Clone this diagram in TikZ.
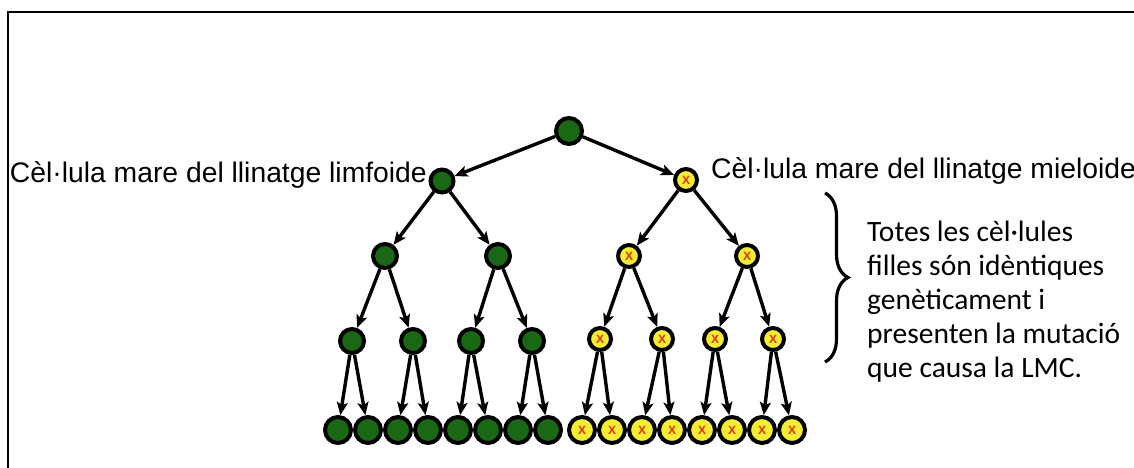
\documentclass[tikz,border=0pt]{standalone}
\usepackage{fontspec}
\newfontfamily\arialf{Liberation Sans}
\newfontfamily\calib{Carlito}
\usetikzlibrary{arrows.meta,decorations.pathreplacing}
\definecolor{cgreen}{RGB}{24,104,20}
\definecolor{cyellow}{RGB}{246,236,50}
\definecolor{cred}{RGB}{222,50,20}
\begin{document}
\begin{tikzpicture}[x=1pt,y=-1pt,
  gcell/.style={circle,draw=black,line width=4pt,fill=cgreen,minimum size=#1,inner sep=0pt},
  ycell/.style={circle,draw=black,line width=4pt,fill=cyellow,minimum size=#1,inner sep=0pt,
     text=cred,font=\arialf\bfseries\fontsize{12}{12}\selectfont},
  arr/.style={-{Stealth[length=13pt,width=11pt,inset=3pt]},line width=3.4pt},
  lbl/.style={font=\arialf\fontsize{28.3}{30}\selectfont,inner sep=0pt},
  frameline/.style={line width=2.4pt}
]
\useasboundingbox (0,0) rectangle (1134,468);
% frame
\coordinate (fa) at (8,470);
\coordinate (fb) at (8,12);
\coordinate (fc) at (1136,12);
\draw[frameline] (fa) -- (fb) -- (fc);

% level 0 and 1
\node[gcell=26pt] (r) at (569,131) {};
\node[gcell=23pt] (L) at (442,181) {};
\node[ycell=22pt] (M) at (686,180) {X};

% level 2
\node[gcell=24pt] (L1) at (385,256) {};
\node[gcell=24pt] (L2) at (498,256) {};
\node[ycell=22pt] (M1) at (629,256) {X};
\node[ycell=22pt] (M2) at (747,256) {X};

% level 3
\node[gcell=24pt] (g1) at (352,341) {};
\node[gcell=24pt] (g2) at (413,341) {};
\node[gcell=24pt] (g3) at (471,341) {};
\node[gcell=24pt] (g4) at (532,341) {};
\node[ycell=22pt] (y1) at (600,339) {X};
\node[ycell=22pt] (y2) at (662,339) {X};
\node[ycell=22pt] (y3) at (715,339) {X};
\node[ycell=22pt] (y4) at (773,339) {X};

% level 4
\foreach \i/\x in {1/338,2/368,3/398,4/428,5/458,6/488,7/518,8/548}
  \node[gcell=26pt] (b\i) at (\x,430) {};
\foreach \i/\x in {1/582,2/612,3/642,4/672,5/702,6/732,7/762,8/792}
  \node[ycell=26pt] (c\i) at (\x,430) {X};

% arrows
\draw[arr] (r) -- (L);
\draw[arr] (r) -- (M);
\draw[arr] (L) -- (L1);
\draw[arr] (L) -- (L2);
\draw[arr] (M) -- (M1);
\draw[arr] (M) -- (M2);
\draw[arr] (L1) -- (g1);
\draw[arr] (L1) -- (g2);
\draw[arr] (L2) -- (g3);
\draw[arr] (L2) -- (g4);
\draw[arr] (M1) -- (y1);
\draw[arr] (M1) -- (y2);
\draw[arr] (M2) -- (y3);
\draw[arr] (M2) -- (y4);
\draw[arr] (g1) -- (b1);
\draw[arr] (g1) -- (b2);
\draw[arr] (g2) -- (b3);
\draw[arr] (g2) -- (b4);
\draw[arr] (g3) -- (b5);
\draw[arr] (g3) -- (b6);
\draw[arr] (g4) -- (b7);
\draw[arr] (g4) -- (b8);
\draw[arr] (y1) -- (c1);
\draw[arr] (y1) -- (c2);
\draw[arr] (y2) -- (c3);
\draw[arr] (y2) -- (c4);
\draw[arr] (y3) -- (c5);
\draw[arr] (y3) -- (c6);
\draw[arr] (y4) -- (c7);
\draw[arr] (y4) -- (c8);

% labels
\node[lbl,anchor=base east] (tl) at (427,182) {Cèl·lula mare del llinatge limfoide};
\node[lbl,anchor=base west] (tr) at (711,178) {Cèl·lula mare del llinatge mieloide};

% brace and note
\coordinate (bt) at (825,193);
\coordinate (bb) at (825,362);
\draw[line width=3.2pt,decorate,decoration={brace,amplitude=23pt}] (bt) -- (bb);
\node[anchor=base west,align=left,inner sep=0pt,font=\calib\fontsize{29.5}{33.8}\selectfont] (note) at (867,377)
  {Totes les cèl·lules\\filles són idèntiques\\genèticament i\\presenten la mutació\\que causa la LMC.};
\end{tikzpicture}
\end{document}
